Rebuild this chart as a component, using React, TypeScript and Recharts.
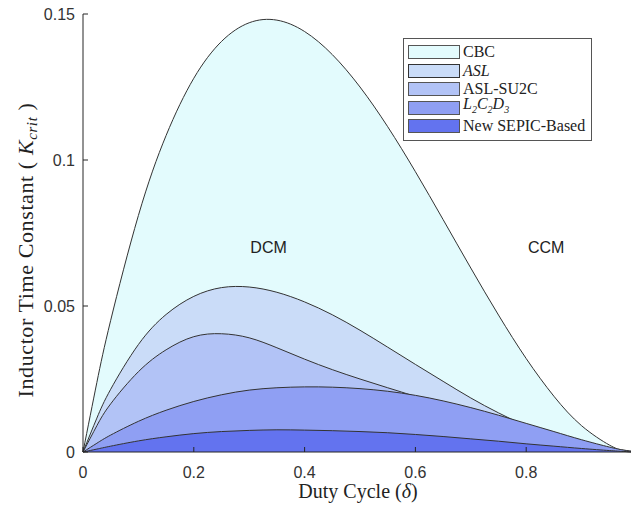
import {
  Area,
  ComposedChart,
  Label,
  Legend,
  ReferenceDot,
  XAxis,
  YAxis,
} from "recharts";

// duty cycle samples
const delta = [
  0, 0.025, 0.05, 0.1, 0.15, 0.2, 0.25, 0.3, 0.35, 0.4, 0.45, 0.5, 0.55, 0.6,
  0.65, 0.7, 0.75, 0.8, 0.85, 0.9, 0.95, 0.975, 1,
];

const cbc = [
  0, 0.0238, 0.0451, 0.081, 0.1084, 0.128, 0.1406, 0.147, 0.1479, 0.144,
  0.1361, 0.125, 0.1114, 0.096, 0.0796, 0.063, 0.0469, 0.032, 0.0191, 0.009,
  0.0024, 0.0006, 0,
];

const asl = [
  0, 0.0116, 0.0215, 0.0368, 0.0471, 0.0533, 0.0563, 0.0565, 0.0547, 0.0514,
  0.047, 0.0417, 0.0359, 0.03, 0.0242, 0.0185, 0.0134, 0.0089, 0.0052, 0.0024,
  0.0006, 0.0002, 0,
];

const aslSu2c = [
  0, 0.009, 0.0165, 0.0275, 0.035, 0.0395, 0.0405, 0.0391, 0.0357, 0.0318,
  0.0282, 0.025, 0.022, 0.019, 0.0156, 0.0122, 0.009, 0.0062, 0.0038, 0.0019,
  0.0006, 0.0002, 0,
];

const l2c2d3 = [
  0, 0.003, 0.0058, 0.0105, 0.0143, 0.0173, 0.0196, 0.0212, 0.022, 0.0223,
  0.0222, 0.0217, 0.0208, 0.0194, 0.0175, 0.0152, 0.0126, 0.0098, 0.007,
  0.0042, 0.0017, 0.0007, 0,
];

const sepic = [
  0, 0.001, 0.002, 0.0038, 0.0052, 0.0063, 0.007, 0.0074, 0.0076, 0.0075,
  0.0073, 0.007, 0.0066, 0.006, 0.0053, 0.0045, 0.0037, 0.0028, 0.002, 0.0012,
  0.0005, 0.0002, 0,
];

const xTicks = [0, 0.2, 0.4, 0.6, 0.8];
const yTicks = [0, 0.05, 0.1, 0.15];

const regions = [
  { text: "DCM", x: 0.335, y: 0.07 },
  { text: "CCM", x: 0.836, y: 0.07 },
];

const series = [
  { key: "cbc", name: "CBC", color: "#e3fbfd" },
  { key: "asl", name: "ASL", color: "#cadcf8" },
  { key: "aslSu2c", name: "ASL-SU2C", color: "#b2c3f6" },
  { key: "l2c2d3", name: "L2C2D3", color: "#8f9ff3" },
  { key: "sepic", name: "New SEPIC-Based", color: "#6373ef" },
];

const data = delta.map((d, i) => ({
  d,
  cbc: cbc[i],
  asl: asl[i],
  aslSu2c: aslSu2c[i],
  l2c2d3: l2c2d3[i],
  sepic: sepic[i],
}));

const AXIS = "#262626";
const SANS = "'Liberation Sans', Arial, sans-serif";
const SERIF = "'Liberation Serif', 'Times New Roman', serif";

function legendName(name: string) {
  if (name === "ASL") return <i>ASL</i>;
  if (name === "L2C2D3")
    return (
      <i>
        L<sub style={{ fontSize: 10 }}>2</sub>C<sub style={{ fontSize: 10 }}>2</sub>D
        <sub style={{ fontSize: 10 }}>3</sub>
      </i>
    );
  return name;
}

function LegendBox() {
  return (
    <div
      style={{
        border: "1px solid #555",
        background: "#fff",
        padding: "4px 6px 4px 4px",
        fontFamily: SERIF,
        fontSize: 16,
        color: "#222",
        lineHeight: "18.5px",
      }}
    >
      {series.map((s) => (
        <div key={s.key} style={{ display: "flex", alignItems: "center", height: 18.5 }}>
          <span
            style={{
              display: "inline-block",
              width: 50,
              height: 12,
              background: s.color,
              border: s.key === "asl" ? "1.5px solid #333" : "1px solid #555",
              marginRight: 3,
            }}
          />
          <span style={{ whiteSpace: "nowrap" }}>{legendName(s.name)}</span>
        </div>
      ))}
    </div>
  );
}

export default function App() {
  return (
    <div
      style={{
        position: "absolute",
        left: 0,
        top: 0,
        width: 631,
        height: 508,
        overflow: "hidden",
        background: "#fff",
      }}
    >
      <ComposedChart
        width={645}
        height={508}
        data={data}
        margin={{ top: 14, right: 8, bottom: 0, left: 0 }}
      >
        <XAxis
          dataKey="d"
          type="number"
          domain={[0, 1]}
          ticks={xTicks}
          tickSize={-5}
          tickMargin={20}
          height={56}
          axisLine={{ stroke: AXIS }}
          tickLine={{ stroke: AXIS }}
          tick={{ fill: "#333", fontSize: 16, fontFamily: SANS }}
        >
          <Label
            content={() => (
              <text
                x={358}
                y={498}
                textAnchor="middle"
                fontFamily={SERIF}
                fontSize={20}
                fill="#222"
              >
                Duty Cycle (<tspan fontStyle="italic">δ</tspan>)
              </text>
            )}
          />
        </XAxis>
        <XAxis
          xAxisId="top"
          orientation="top"
          dataKey="d"
          type="number"
          domain={[0, 1]}
          ticks={xTicks}
          tick={false}
          tickSize={-5}
          height={0}
          axisLine={{ stroke: AXIS }}
          tickLine={{ stroke: AXIS }}
        />
        <YAxis
          type="number"
          domain={[0, 0.15]}
          ticks={yTicks}
          width={83}
          tickSize={-5}
          tickMargin={13}
          axisLine={{ stroke: AXIS }}
          tickLine={{ stroke: AXIS }}
          tick={{ fill: "#333", fontSize: 16, fontFamily: SANS }}
        >
          <Label
            content={() => (
              <text
                x={33}
                y={250}
                transform="rotate(-90 33 250)"
                textAnchor="middle"
                fontFamily={SERIF}
                fontSize={22}
                letterSpacing={0.6}
                fill="#222"
              >
                Inductor Time Constant ( <tspan fontStyle="italic">K</tspan>
                <tspan fontStyle="italic" fontSize={15} dy={4}>
                  crit
                </tspan>
                <tspan dy={-4}> )</tspan>
              </text>
            )}
          />
        </YAxis>
        {series.map((s) => (
          <Area
            key={s.key}
            type="natural"
            dataKey={s.key}
            name={s.name}
            fill={s.color}
            fillOpacity={1}
            stroke="#333"
            strokeWidth={1}
            dot={false}
            activeDot={false}
            isAnimationActive={false}
          />
        ))}
        {regions.map((r) => (
          <ReferenceDot
            key={r.text}
            x={r.x}
            y={r.y}
            r={0}
            fill="none"
            stroke="none"
            label={{
              value: r.text,
              position: "center",
              fill: "#222",
              fontSize: 16,
              fontFamily: SANS,
            }}
          />
        ))}
        <Legend
          layout="vertical"
          align="center"
          verticalAlign="middle"
          content={() => <LegendBox />}
          wrapperStyle={{ left: 403, top: 38, width: "auto" }}
        />
      </ComposedChart>
    </div>
  );
}
